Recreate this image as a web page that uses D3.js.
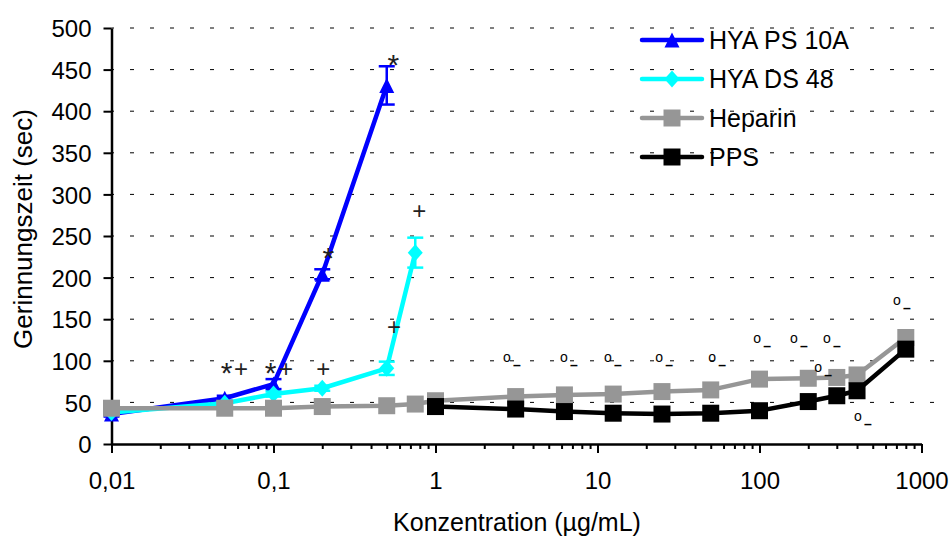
<!DOCTYPE html>
<html>
<head>
<meta charset="utf-8">
<script src="https://cdn.jsdelivr.net/npm/d3@7"></script>
<style>
  body { margin: 0; background: #fff; }
  svg { font-family: "Liberation Sans", Arial, sans-serif; }
</style>
</head>
<body>
<div id="chart"></div>
<script>
// values
var concPS = [0.01, 0.05, 0.1, 0.2, 0.5];
var timePS = [36, 55, 72, 204, 431];
var errPS = [3, 3, 6, 6, 23];

var concDS = [0.01, 0.05, 0.1, 0.2, 0.5, 0.75];
var timeDS = [38, 49, 60, 67, 91, 230];
var errDS = [2, 2, 3, 3, 8, 18];

var concHep = [0.01, 0.05, 0.1, 0.2, 0.5, 0.75, 1, 3.125, 6.25, 12.5, 25, 50, 100, 200, 300, 400, 800];
var timeHep = [43, 43, 43, 45, 46, 48, 52, 57, 59, 60, 63, 65, 78, 79, 80, 83, 128];

var concPPS = [1, 3.125, 6.25, 12.5, 25, 50, 100, 200, 300, 400, 800];
var timePPS = [45, 42, 39, 37, 36, 37, 40, 51, 58, 64, 114];

var seriesNames = ["HYA PS 10A", "HYA DS 48", "Heparin", "PPS"];
var seriesColors = ["#0000ff", "#00ffff", "#969696", "#000000"];
var seriesMarkers = ["triangle", "diamond", "square", "square"];

var xTicks = [0.01, 0.1, 1, 10, 100, 1000];
var xTickLabels = ["0,01", "0,1", "1", "10", "100", "1000"];
var yTicks = d3.range(0, 501, 50);

// significance marks: [conc, time, symbol]
var marks = [
    [0.0514, 95, "*"], [0.063, 90, "+"],
    [0.0961, 95, "*"], [0.1195, 90, "+"],
    [0.203, 90, "+"], [0.218, 233, "*"],
    [0.549, 465, "*"], [0.554, 141, "+"],
    [0.794, 280, "+"]
];
// "o" marks with a small dash: [conc, time]
var circleMarks = [
    [2.76, 103], [6.21, 103], [11.6, 103], [24, 103], [51, 103],
    [96.6, 126], [163, 126], [261, 126], [230, 91], [405, 32.5], [706, 172]
];

var width = 952, height = 538;

var svg = d3.select("#chart").append("svg")
    .attr("width", width)
    .attr("height", height);

var x = d3.scaleLog().domain([0.01, 1000]).range([111.5, 921.5]);
var y = d3.scaleLinear().domain([0, 500]).range([444, 28]);

// grid
svg.append("g")
    .selectAll("line")
    .data(yTicks.filter(function (d) { return d > 0; }))
    .enter().append("line")
    .attr("x1", x(0.01))
    .attr("x2", 946)
    .attr("y1", function (d) { return y(d); })
    .attr("y2", function (d) { return y(d); })
    .attr("stroke", "#000")
    .attr("stroke-width", 1)
    .attr("stroke-dasharray", "4,16")
    .attr("stroke-dashoffset", 1.5);

// axes
var minorTicks = [];
for (var e = -2; e < 3; e++) {
    for (var k = 2; k < 10; k++) minorTicks.push(k * Math.pow(10, e));
}

var xMinor = svg.append("g")
    .attr("transform", "translate(0," + y(0) + ")")
    .call(d3.axisBottom(x).tickValues(minorTicks).tickSize(5).tickFormat(""));
xMinor.select(".domain").remove();
xMinor.selectAll("line").attr("stroke-width", 2);

var xAxis = svg.append("g")
    .attr("transform", "translate(0," + y(0) + ")")
    .call(d3.axisBottom(x).tickValues(xTicks).tickSize(9).tickSizeOuter(0)
        .tickFormat(function (d, i) { return xTickLabels[i]; }));
xAxis.select(".domain").attr("stroke-width", 2.5);
xAxis.selectAll("line").attr("stroke-width", 2);
xAxis.selectAll("text")
    .attr("font-size", 24)
    .attr("fill", "#000")
    .attr("font-family", "Liberation Sans, Arial, sans-serif")
    .attr("y", 28)
    .attr("dy", "0.71em");

var yAxis = svg.append("g")
    .attr("transform", "translate(" + x(0.01) + ",0)")
    .call(d3.axisLeft(y).tickValues(yTicks).tickSize(8).tickSizeOuter(0).tickPadding(12));
yAxis.select(".domain").attr("stroke-width", 2.5);
yAxis.selectAll("line").attr("stroke-width", 2);
yAxis.selectAll("text")
    .attr("font-size", 24)
    .attr("fill", "#000")
    .attr("font-family", "Liberation Sans, Arial, sans-serif")
    .attr("dy", "0.36em");

svg.append("text")
    .attr("x", 517)
    .attr("y", 531)
    .attr("text-anchor", "middle")
    .attr("font-size", 25)
    .text("Konzentration (µg/mL)");

svg.append("text")
    .attr("transform", "translate(32,229) rotate(-90)")
    .attr("text-anchor", "middle")
    .attr("font-size", 26)
    .text("Gerinnungszeit (sec)");

function markerPath(type, size) {
    var h = size / 2;
    if (type == "triangle") return "M0," + (-h) + "L" + h + "," + h + "L" + (-h) + "," + h + "Z";
    if (type == "diamond") return "M0," + (-h - 1) + "L" + h + ",0L0," + (h + 1) + "L" + (-h) + ",0Z";
    return "M" + (-h) + "," + (-h) + "H" + h + "V" + h + "H" + (-h) + "Z";
}

var line = d3.line()
    .x(function (d) { return x(d[0]); })
    .y(function (d) { return y(d[1]); });

function drawSeries(conc, time, err, idx) {
    var pts = conc.map(function (c, i) { return [c, time[i], err ? err[i] : 0]; });
    var g = svg.append("g");
    g.append("path")
        .datum(pts)
        .attr("d", line)
        .attr("fill", "none")
        .attr("stroke", seriesColors[idx])
        .attr("stroke-width", 4.5)
        .attr("stroke-linejoin", "round");
    if (err) {
        var eb = g.selectAll(".err").data(pts).enter().append("g");
        eb.append("line")
            .attr("x1", function (d) { return x(d[0]); })
            .attr("x2", function (d) { return x(d[0]); })
            .attr("y1", function (d) { return y(d[1] - d[2]); })
            .attr("y2", function (d) { return y(d[1] + d[2]); })
            .attr("stroke", seriesColors[idx])
            .attr("stroke-width", 2.5);
        [-1, 1].forEach(function (s) {
            eb.append("line")
                .attr("x1", function (d) { return x(d[0]) - 8; })
                .attr("x2", function (d) { return x(d[0]) + 8; })
                .attr("y1", function (d) { return y(d[1] + s * d[2]); })
                .attr("y2", function (d) { return y(d[1] + s * d[2]); })
                .attr("stroke", seriesColors[idx])
                .attr("stroke-width", 2.5);
        });
    }
    var size = seriesMarkers[idx] == "square" ? 17 : 15;
    g.selectAll(".pt").data(pts).enter().append("path")
        .attr("transform", function (d) { return "translate(" + x(d[0]) + "," + y(d[1]) + ")"; })
        .attr("d", markerPath(seriesMarkers[idx], size))
        .attr("fill", seriesColors[idx]);
}

drawSeries(concPS, timePS, errPS, 0);
drawSeries(concDS, timeDS, errDS, 1);
drawSeries(concHep, timeHep, null, 2);
drawSeries(concPPS, timePPS, null, 3);

// significance marks
svg.append("g").selectAll("text")
    .data(marks)
    .enter().append("text")
    .attr("x", function (d) { return x(d[0]); })
    .attr("y", function (d) { return y(d[1]); })
    .attr("dy", function (d) { return d[2] == "*" ? 18 : 8; })
    .attr("text-anchor", "middle")
    .attr("font-size", function (d) { return d[2] == "*" ? 30 : 24; })
    .attr("fill", "#222")
    .text(function (d) { return d[2]; });

var cm = svg.append("g").selectAll("g")
    .data(circleMarks)
    .enter().append("g")
    .attr("transform", function (d) { return "translate(" + x(d[0]) + "," + y(d[1]) + ")"; });
cm.append("text")
    .attr("text-anchor", "middle")
    .attr("dy", 3.8)
    .attr("font-size", 14)
    .attr("fill", "#000")
    .text("o");
cm.append("text")
    .attr("x", 10)
    .attr("dy", 12)
    .attr("text-anchor", "middle")
    .attr("font-size", 14)
    .attr("font-weight", "bold")
    .attr("fill", "#000")
    .text("–");

// legend
var legend = svg.append("g").selectAll("g")
    .data(seriesNames)
    .enter().append("g")
    .attr("transform", function (d, i) { return "translate(642," + (40 + i * 39) + ")"; });
legend.append("line")
    .attr("x1", 0).attr("x2", 60)
    .attr("stroke", function (d, i) { return seriesColors[i]; })
    .attr("stroke-width", 4.5)
    .attr("stroke-linecap", "round");
legend.append("path")
    .attr("transform", "translate(30,0)")
    .attr("d", function (d, i) { return markerPath(seriesMarkers[i], seriesMarkers[i] == "square" ? 17 : 15); })
    .attr("fill", function (d, i) { return seriesColors[i]; });
legend.append("text")
    .attr("x", 67)
    .attr("dy", "0.36em")
    .attr("font-size", 25)
    .text(function (d) { return d; });
</script>
</body>
</html>
